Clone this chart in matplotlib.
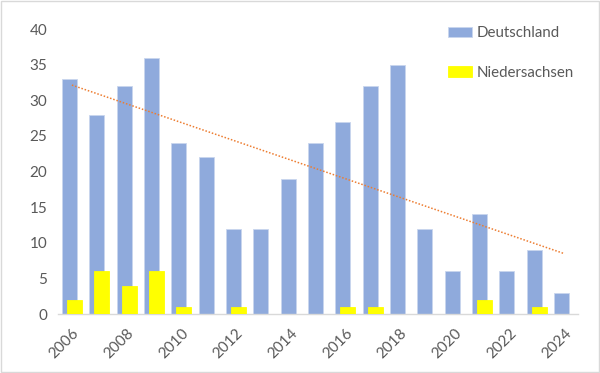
import matplotlib
matplotlib.use("Agg")
import matplotlib.pyplot as plt
import numpy as np
from matplotlib.patches import Rectangle

years = list(range(2006, 2025))
deutschland = [33, 28, 32, 36, 24, 22, 12, 12, 19, 24, 27, 32, 35, 12, 6, 14, 6, 9, 3]
niedersachsen = [2, 6, 4, 6, 1, 0, 1, 0, 0, 0, 1, 1, 0, 0, 0, 2, 0, 1, 0]

plt.rcParams['font.family'] = ['Lato', 'DejaVu Sans']
grey = '#595959'

fig = plt.figure(figsize=(6.0, 3.73), dpi=100)
ax = fig.add_axes([0.097, 0.158, 0.866, 0.764])

x = np.arange(len(years))
w = 0.55
off = 0.09
ax.bar(x - off, deutschland, width=w, color='#8FAADC', edgecolor='#C9D6EE', linewidth=0.6,
       label='Deutschland', zorder=2)
ax.bar(x + off, niedersachsen, width=w, color='#FFFF00', edgecolor='#FFFF00', linewidth=0.6,
       label='Niedersachsen', zorder=3)

# linear trendline for Deutschland
coef = np.polyfit(x, deutschland, 1)
ax.plot(x, np.polyval(coef, x), linestyle=(0, (1, 1.2)), color='#ED7D31', linewidth=1.1, zorder=4)

ax.set_xlim(-0.5, len(years) - 0.5)
ax.set_ylim(0, 40)
ax.set_yticks(range(0, 41, 5))
ax.set_xticks(x[::2])
ax.set_xticklabels([str(y) for y in years[::2]], rotation=45, ha='right', rotation_mode='anchor')

for s in ['top', 'right', 'left']:
    ax.spines[s].set_visible(False)
ax.spines['bottom'].set_color('#D9D9D9')
ax.spines['bottom'].set_linewidth(1.0)
ax.tick_params(axis='both', length=0, colors=grey, labelsize=11)
ax.tick_params(axis='y', pad=8)
ax.tick_params(axis='x', pad=9)

leg = ax.legend(loc='upper right', bbox_to_anchor=(1.018, 1.058), frameon=False, fontsize=10.8,
                labelspacing=1.7, handlelength=1.6, handleheight=0.7, handletextpad=0.3, labelcolor=grey)

fig.patches.append(Rectangle((0.002, 0.003), 0.996, 0.994, transform=fig.transFigure,
                             fill=False, edgecolor='#D9D9D9', linewidth=1.0))

fig.savefig('out.png', dpi=100)
